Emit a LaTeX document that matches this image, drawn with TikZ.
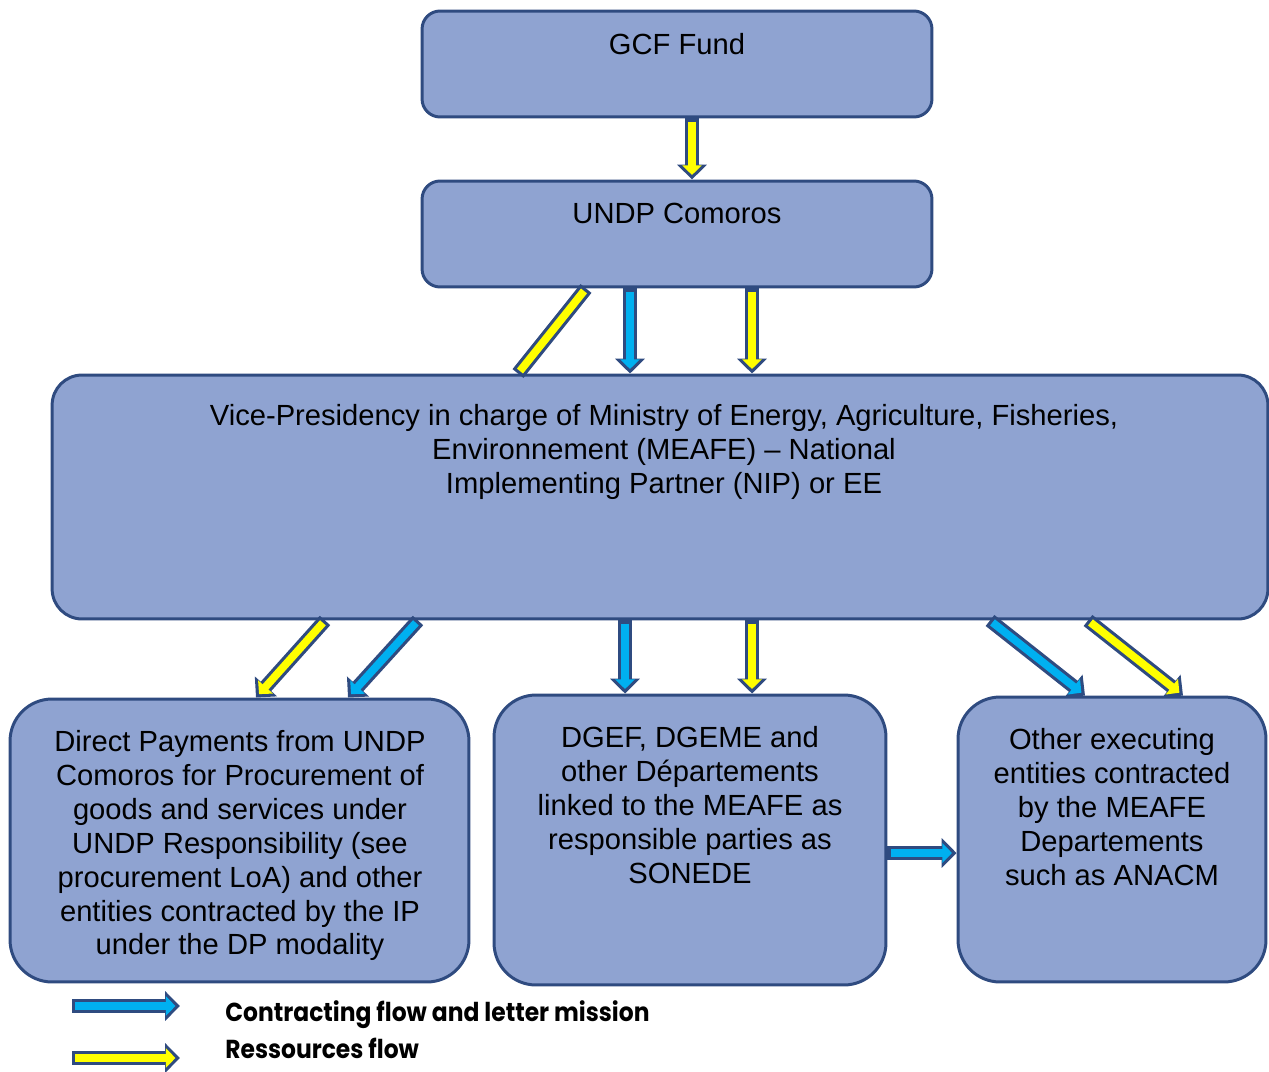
\documentclass[tikz,border=0pt]{standalone}
\usepackage{fontspec}
\setmainfont{Liberation Sans}
\newfontfamily\legendfont{Poppins}[FakeStretch=0.9]
\usetikzlibrary{arrows.meta,positioning}

\definecolor{boxfill}{HTML}{8FA3D1}
\definecolor{boxline}{HTML}{2F4B80}
\definecolor{flowblue}{HTML}{00B0F0}
\definecolor{flowyellow}{HTML}{FFFF00}

\tikzset{
  box/.style={draw=boxline, fill=boxfill, line width=1.7pt, inner sep=0pt},
  boxtext/.style={align=center, inner sep=0pt, anchor=north,
    font=\fontsize{16.6pt}{19.3pt}\selectfont},
  legendtext/.style={anchor=base west, inner sep=0pt,
    font=\legendfont\bfseries\fontsize{14.8pt}{17pt}\selectfont},
  flowbar/.style={line width=4.4pt, shorten <=1.8pt, shorten >=1.8pt,
    preaction={draw=boxline, line width=8pt, shorten <=0pt, shorten >=0pt}},
  flow/.style={line width=4.4pt, shorten <=1.8pt, shorten >=2.6pt,
    -{Triangle[width=11pt,length=5.5pt]},
    preaction={draw=boxline, line width=8pt, shorten <=0pt, shorten >=0pt,
      -{Triangle[width=16.5pt,length=8.5pt]}}},
}

\begin{document}
\begin{tikzpicture}[x=0.02cm, y=-0.02cm]

  \useasboundingbox (0,0) rectangle (1269,1072);

  % boxes
  \node[box, rounded corners=0.36cm, minimum width=10.2cm, minimum height=2.12cm] (gcf) at (677,64) {};
  \node[box, rounded corners=0.36cm, minimum width=10.2cm, minimum height=2.12cm] (undp) at (677,234) {};
  \node[box, rounded corners=0.6cm, minimum width=24.32cm, minimum height=4.88cm] (nip) at (660,497) {};
  \node[box, rounded corners=0.84cm, minimum width=9.18cm, minimum height=5.66cm] (dp) at (239.5,840.5) {};
  \node[box, rounded corners=0.84cm, minimum width=7.84cm, minimum height=5.8cm] (dgef) at (690,840) {};
  \node[box, rounded corners=0.84cm, minimum width=6.16cm, minimum height=5.7cm] (other) at (1112,839.5) {};

  % texts of boxes
  \node[boxtext] (gcftext) at (gcf.north |- 0,33) {GCF Fund};
  \node[boxtext] (undptext) at (undp.north |- 0,203) {UNDP Comoros};
  \node[boxtext] (niptext) at (664,404) {Vice-Presidency in charge of Ministry of Energy, Agriculture, Fisheries,\\
    Environnement (MEAFE) -- National\\ Implementing Partner (NIP) or EE};
  \node[boxtext] (dptext) at (240,730) {Direct Payments from UNDP\\ Comoros for Procurement of\\
    goods and services under\\ UNDP Responsibility (see\\ procurement LoA) and other\\
    entities contracted by the IP\\ under the DP modality};
  \node[boxtext] (dgeftext) at (690,726) {DGEF, DGEME and\\ other Départements\\
    linked to the MEAFE as\\ responsible parties as\\ SONEDE};
  \node[boxtext] (othertext) at (1112,728) {Other executing\\ entities contracted\\
    by the MEAFE\\ Departements\\ such as ANACM};

  % arrows
  \draw[flow, flowyellow] (gcf.south -| 692,0) -- (undp.north -| 692,0);

  \draw[flowbar, flowyellow] (undp.south -| 586,0) -- (nip.north -| 518,0);
  \draw[flow, flowblue] (undp.south -| 630,0) -- (nip.north -| 630,0);
  \draw[flow, flowyellow] (undp.south -| 752,0) -- (nip.north -| 752,0);

  \draw[flow, flowyellow] (nip.south -| 325,0) -- (dp.north -| 256,0);
  \draw[flow, flowblue] (nip.south -| 418,0) -- (dp.north -| 348,0);
  \draw[flow, flowblue] (nip.south -| 625,0) -- (dgef.north -| 625,0);
  \draw[flow, flowyellow] (nip.south -| 752,0) -- (dgef.north -| 752,0);
  \draw[flow, flowblue] (nip.south -| 990,0) -- (other.north -| 1085,0);
  \draw[flow, flowyellow] (nip.south -| 1088,0) -- (other.north -| 1183,0);

  \draw[flow, flowblue] (dgef.east |- 0,853) -- (other.west |- 0,853);

  % legend
  \coordinate (lblue1) at (72,1006);
  \coordinate (lblue2) at (180,1006);
  \coordinate (lyellow1) at (72,1058);
  \coordinate (lyellow2) at (180,1058);
  \draw[flow, flowblue] (lblue1) -- (lblue2);
  \draw[flow, flowyellow] (lyellow1) -- (lyellow2);
  \node[legendtext] (lcontract) at (225,1021) {Contracting flow and letter mission};
  \node[legendtext] (lres) at (225,1058) {Ressources flow};

\end{tikzpicture}
\end{document}
